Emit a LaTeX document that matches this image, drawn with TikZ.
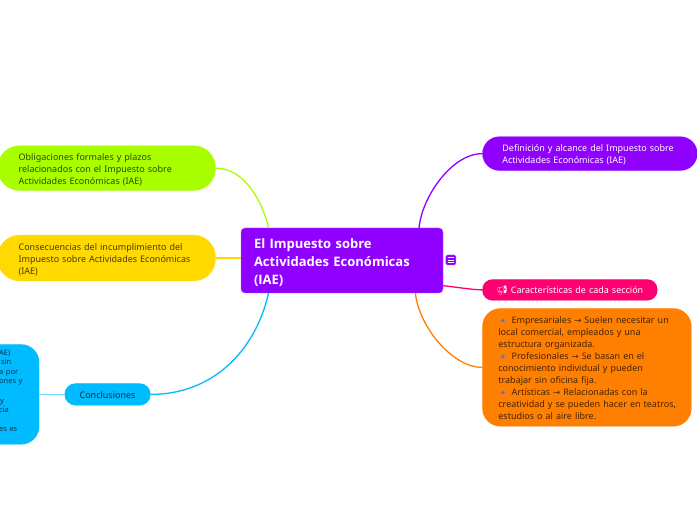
\documentclass[tikz,border=0pt]{standalone}
\usepackage{fontspec}
\setmainfont{Noto Sans}
\newfontfamily\rootfont{Open Sans}
\newfontfamily\emojifont{Noto Emoji}
\newfontfamily\arrowfont{DejaVu Sans}
\usepackage{tikz}
\usetikzlibrary{positioning, calc}
\definecolor{rootcol}{HTML}{9000FF}
\definecolor{limecol}{HTML}{A9FF00}
\definecolor{yellowcol}{HTML}{FFD900}
\definecolor{skycol}{HTML}{00BBFF}
\definecolor{pinkcol}{HTML}{FF0072}
\definecolor{orangecol}{HTML}{FF7F00}
\definecolor{bulletcol}{HTML}{2F6BFF}
\newcommand{\toarrow}{{\arrowfont\fontsize{8.5}{12}\selectfont →}}
\newcommand{\bulletmark}{\hspace*{2.5pt}\raisebox{0.8pt}{\arrowfont\fontsize{5.5}{12}\selectfont\textcolor{bulletcol}{◆}}\hspace*{6.5pt}}

\begin{document}
\begin{tikzpicture}[
    x=1pt, y=1pt,
    every node/.style={align=left, inner sep=0pt, font=\fontsize{9}{12}\selectfont},
    branch/.style={rounded corners=#1, text opacity=0.72, text=black, draw opacity=0.35},
    branch/.default=10pt,
    lowered/.style={execute at begin node={\rule{0pt}{#1}}},
    rootnode/.style={fill=rootcol, draw=rootcol!70, rounded corners=4pt, text=white, minimum width=202pt, minimum height=65pt, text width=176pt, font=\rootfont\fontsize{13}{18}\selectfont\bfseries, lowered=15pt},
    link/.style={line width=1.3pt}
]

% Nodes
\clip (0,0) rectangle (697,520);
\node[rootnode] (root) at (342,259.5) {El Impuesto sobre\\Actividades Económicas\\(IAE)};
\node[branch=17pt, lowered=10pt, fill=rootcol, draw=rootcol, text=white, text opacity=1, minimum width=215pt, minimum height=34pt, text width=175pt] (definicion) [above right=57pt and 39pt of root] {Definición y alcance del Impuesto sobre\\Actividades Económicas (IAE)};
\node[branch=10pt, lowered=8pt, fill=pinkcol, draw=pinkcol, text=white, text opacity=1, minimum width=175pt, minimum height=21pt, text width=147pt] (caracteristicas) [below right=-14pt and 39pt of root] {{\emojifont 📢}\hspace{3pt}Características de cada sección};
\node[branch=18pt, lowered=8pt, fill=orangecol, draw=orangecol, minimum width=209pt, minimum height=118pt, text width=177pt] (tipos) [below right=15pt and 39pt of root] {\bulletmark Empresariales \toarrow{} Suelen necesitar un\\local comercial, empleados y una\\estructura organizada.\\\bulletmark Profesionales \toarrow{} Se basan en el\\conocimiento individual y pueden\\trabajar sin oficina fija.\\\bulletmark Artísticas \toarrow{} Relacionadas con la\\\mbox{creatividad y se pueden hacer en teatros,}\\estudios o al aire libre.};
\node[branch=22pt, lowered=10pt, fill=limecol, draw=limecol, minimum width=218pt, minimum height=45pt, text width=176pt] (obligaciones) [above left=37pt and 25pt of root] {Obligaciones formales y plazos\\relacionados con el Impuesto sobre\\Actividades Económicas (IAE)};
\node[branch=22pt, lowered=10pt, fill=yellowcol, draw=yellowcol, minimum width=218pt, minimum height=46pt, text width=176pt] (consecuencias) [below=44pt of obligaciones] {Consecuencias del incumplimiento del\\Impuesto sobre Actividades Económicas\\(IAE)};
\node[branch=11pt, lowered=8pt, fill=skycol, draw=skycol, minimum width=86pt, minimum height=22pt, text width=56pt] (conclusiones) [below left=90pt and 90pt of root] {Conclusiones};
\node[branch=18pt, fill=skycol, draw=skycol, minimum width=60pt, minimum height=100pt, text width=60pt, font=\fontsize{7.5}{9.6}\selectfont] (resumen) [left=25pt of conclusiones] {\hspace*{20pt}AE)\\\hspace*{22pt}sin\\\hspace*{20pt}a por\\\hspace*{20pt}ones y\\[9.6pt]\hspace*{21pt}y\\\hspace*{20pt}cia\\[9.6pt]\hspace*{20pt}es es\rule[-7pt]{0pt}{7pt}};
\node[fill=rootcol, draw=rootcol!70, rounded corners=1.5pt, minimum size=10pt, line width=0.3pt] (notas) [right=2.5pt of root, yshift=0.5pt,
  path picture={\foreach \rowy in {-2.2,0,2.2} \draw[white, line width=0.7pt] ($(path picture bounding box.center)+(-3,\rowy)$) -- ++(6,0);}] {};

% Connectors
\draw[link, rootcol] (root.23.5) to[out=85, in=180, looseness=0.8] (definicion.west);
\draw[link, pinkcol] (root.-14) to[out=-5, in=180, looseness=0.6] (caracteristicas.west);
\draw[link, orangecol] (root.-24) to[out=-85, in=180, looseness=0.8] (tipos.west);
\draw[link, limecol] (obligaciones.east) to[out=0, in=103, looseness=0.9] (root.156);
\draw[link, yellowcol] (consecuencias.east) -- (root.west |- consecuencias.east);
\draw[link, skycol] (conclusiones.east) to[out=0, in=-103, looseness=1] (root.204);
\draw[link, skycol!55, line width=1.6pt] (resumen.east) -- (conclusiones.west);

\end{tikzpicture}
\end{document}
